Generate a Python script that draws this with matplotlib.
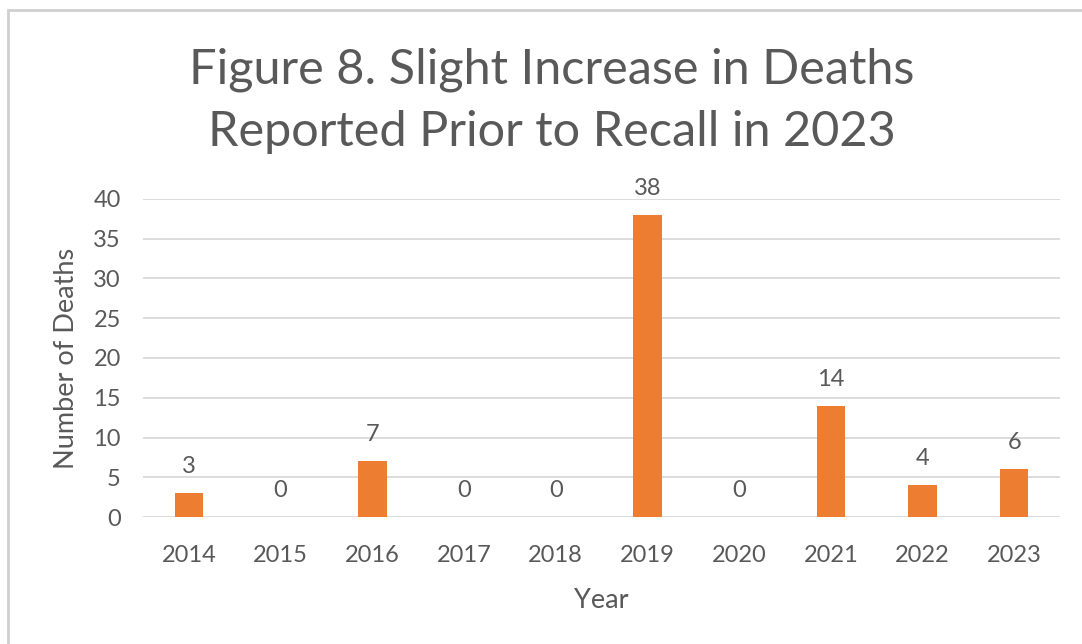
import matplotlib.pyplot as plt
from matplotlib.patches import Rectangle

years = ['2014', '2015', '2016', '2017', '2018', '2019', '2020', '2021', '2022', '2023']
deaths = [3, 0, 7, 0, 0, 38, 0, 14, 4, 6]

plt.rcParams['font.family'] = ['Lato', 'DejaVu Sans']
gray = '#595959'

fig = plt.figure(figsize=(10.82, 6.44), dpi=100)
# light frame like the exported chart box
fig.patches.append(Rectangle((8 / 1082, -0.1), 1.2, 1 - 10 / 644 + 0.1,
                             transform=fig.transFigure, fill=False,
                             edgecolor='#d0d0d0', linewidth=2))

ax = fig.add_axes([0.1322, 0.1972, 0.8475, 0.4938])
x = range(len(years))
bars = ax.bar(x, deaths, width=0.31, color='#ED7D31', zorder=3)
for i, v in enumerate(deaths):
    ax.text(i, v + 2.0, str(v), ha='center', va='bottom', fontsize=17, color=gray)

ax.set_xlim(-0.5, len(years) - 0.5)
ax.set_ylim(0, 40)
ax.set_yticks(range(0, 41, 5))
ax.set_xticks(list(x))
ax.set_xticklabels(years)
ax.grid(axis='y', color='#d9d9d9', linewidth=1.3, zorder=0)
ax.tick_params(length=0, labelsize=17, labelcolor=gray)
ax.tick_params(axis='x', pad=20)
ax.tick_params(axis='y', pad=16)
for s in ax.spines.values():
    s.set_visible(False)

ax.set_xlabel('Year', fontsize=19.5, color=gray, labelpad=16)
ax.set_ylabel('Number of Deaths', fontsize=19.5, color=gray, labelpad=10)

fig.text(0.51, 0.843, 'Figure 8. Slight Increase in Deaths\nReported Prior to Recall in 2023',
         ha='center', va='center', fontsize=35, color=gray, linespacing=1.5)

fig.savefig('out.png', dpi=100)
